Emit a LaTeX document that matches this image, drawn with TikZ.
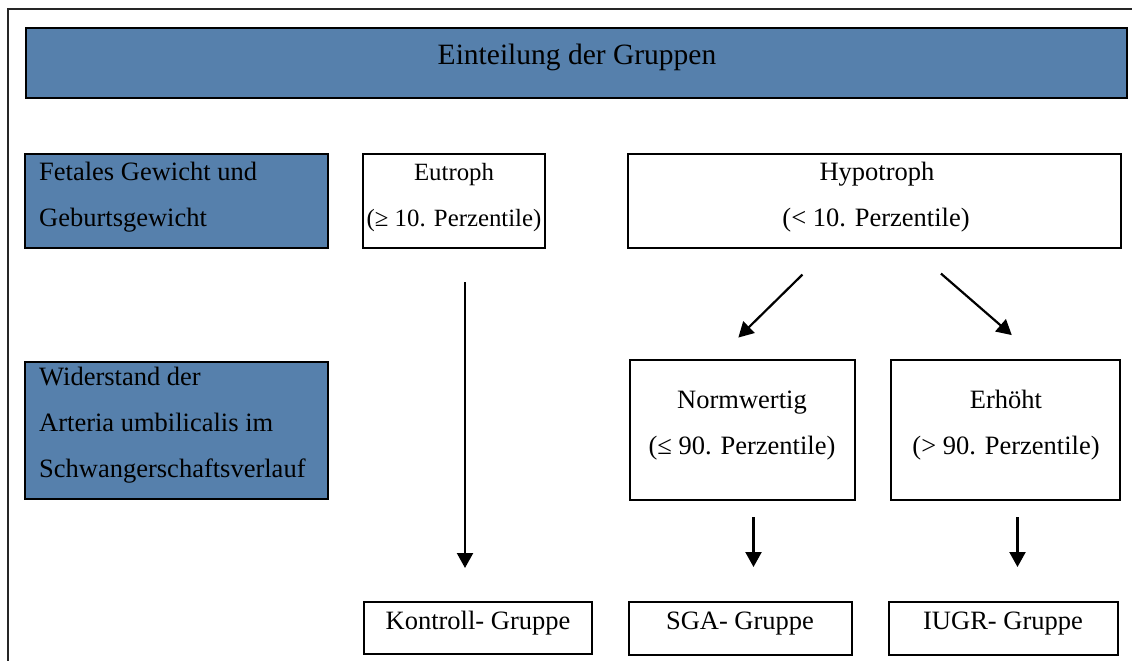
\documentclass[tikz,border=0pt]{standalone}
\usepackage{fontspec}
\setmainfont{Liberation Serif}
\usetikzlibrary{arrows.meta}
\definecolor{hdrblue}{RGB}{86,128,172}
\begin{document}
\begin{tikzpicture}[x=1pt,y=-1pt,
  box/.style={draw=black, line width=2.3pt, rectangle, inner sep=0pt, outer sep=0pt, anchor=north west},
  bluebox/.style={box, fill=hdrblue},
  txt/.style={inner sep=0pt, font=\fontsize{26.5}{46}\selectfont, anchor=base},
  smalltxt/.style={txt, font=\fontsize{24.8}{46}\selectfont},
  ltxt/.style={txt, anchor=base west},
  arr/.style={line width=2.2pt, -{Triangle[length=15pt,width=16pt]}}]
\useasboundingbox (0,0) rectangle (1132,661);
% outer frame (left and top edges visible)
\draw[line width=2pt, black!85] (8,670) -- (8,9) -- (1140,9);
% header
\node[bluebox, minimum width=1101pt, minimum height=70pt] (hdr) at (26,28) {};
\node[txt, font=\fontsize{29.5}{46}\selectfont] (hdrT) at (577,65) {Einteilung der Gruppen};
% left labels
\node[bluebox, minimum width=303pt, minimum height=94pt] (lab1) at (25,154) {};
\node[ltxt] (lab1a) at (39,180) {Fetales Gewicht und};
\node[ltxt] (lab1b) at (39,226) {Geburtsgewicht};
\node[bluebox, minimum width=303pt, minimum height=137pt] (lab2) at (25,362) {};
\node[ltxt] (lab2a) at (39,385) {Widerstand der};
\node[ltxt] (lab2b) at (39,431) {Arteria umbilicalis im};
\node[ltxt] (lab2c) at (39,477) {Schwangerschaftsverlauf};
% first row
\node[box, minimum width=182pt, minimum height=94pt] (eut) at (363,154) {};
\node[smalltxt] (eutA) at (454,180) {Eutroph};
\node[smalltxt] (eutB) at (454,226) {(≥ 10. Perzentile)};
\node[box, minimum width=493pt, minimum height=94pt] (hyp) at (628,154) {};
\node[txt] (hypA) at (877,180) {Hypotroph};
\node[txt] (hypB) at (876,226) {(< 10. Perzentile)};
% second row
\node[box, minimum width=225pt, minimum height=140pt] (norm) at (630,360) {};
\node[txt] (normA) at (742,408) {Normwertig};
\node[txt] (normB) at (742,454) {(≤ 90. Perzentile)};
\node[box, minimum width=229pt, minimum height=140pt] (erh) at (891,360) {};
\node[txt] (erhA) at (1006,408) {Erhöht};
\node[txt] (erhB) at (1006,454) {(> 90. Perzentile)};
% bottom row
\node[box, minimum width=228pt, minimum height=52pt] (kon) at (364,602) {};
\node[txt] (konT) at (478,629) {Kontroll- Gruppe};
\node[box, minimum width=223pt, minimum height=53pt] (sga) at (629,602) {};
\node[txt] (sgaT) at (740,629) {SGA- Gruppe};
\node[box, minimum width=229pt, minimum height=53pt] (iugr) at (889,602) {};
\node[txt] (iugrT) at (1003,629) {IUGR- Gruppe};
% arrows
\draw[arr, shorten <=34pt, shorten >=34pt] ([xshift=11pt]eut.south) -- ([xshift=-13pt]kon.north);
\draw[arr, shorten <=38pt, shorten >=32pt] ([xshift=-45pt]hyp.south) -- ([xshift=-27pt]norm.north);
\draw[arr, shorten <=39pt, shorten >=38pt] ([xshift=37pt]hyp.south) -- ([xshift=35pt]erh.north);
\draw[arr, shorten <=17pt, shorten >=35pt] ([xshift=11pt]norm.south) -- ([xshift=13pt]sga.north);
\draw[arr, shorten <=17pt, shorten >=35pt] ([xshift=12pt]erh.south) -- ([xshift=14pt]iugr.north);
\end{tikzpicture}
\end{document}
